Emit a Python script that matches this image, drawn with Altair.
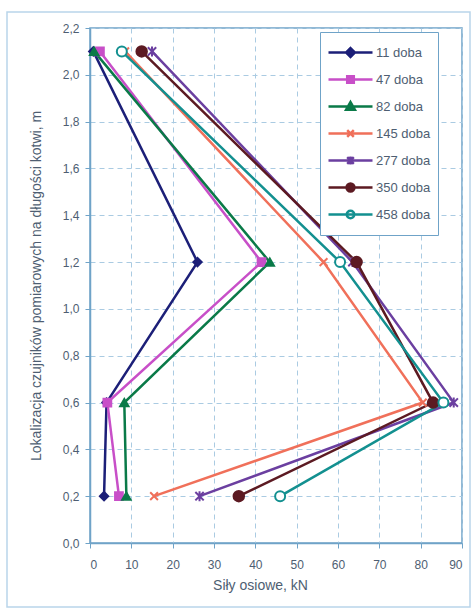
import altair as alt
import pandas as pd

positions = [2.1, 1.2, 0.6, 0.2]
series = ["11 doba", "47 doba", "82 doba", "145 doba", "277 doba", "350 doba", "458 doba"]
v_11 = [0.8, 26.0, 4.0, 3.4]
v_47 = [2.4, 41.5, 4.2, 7.0]
v_82 = [1.0, 43.5, 8.3, 8.8]
v_145 = [8.5, 56.5, 80.5, 15.5]
v_277 = [15.0, 63.5, 88.0, 26.5]
v_350 = [12.5, 64.5, 83.0, 36.0]
v_458 = [7.7, 60.5, 85.5, 46.0]
all_values = [v_11, v_47, v_82, v_145, v_277, v_350, v_458]

colors = ["#1c1f78", "#c84fc8", "#0a7a48", "#f0705a", "#6b3fa0", "#5c1a22", "#139090"]
fills = ["#1c1f78", "#c84fc8", "#0a7a48", "#f0705a", "#6b3fa0", "#5c1a22", "#ffffff"]
x_ticks = [0, 10, 20, 30, 40, 50, 60, 70, 80, 90]
y_ticks = [0.0, 0.2, 0.4, 0.6, 0.8, 1.0, 1.2, 1.4, 1.6, 1.8, 2.0, 2.2]

X_PATH = "M-1,-1L1,1M-1,1L1,-1"
STAR_PATH = "M-1,-1L1,1M-1,1L1,-1M0,-1.2V1.2"
chart_shapes = ["diamond", "square", "triangle-up", X_PATH, STAR_PATH, "circle", "circle"]
chart_sizes = [70, 60, 70, 60, 70, 110, 100]

legend_shapes = [
    "M-1,0H1M0,-0.2L0.2,0L0,0.2L-0.2,0Z",
    "M-1,0H1M-0.15,-0.15H0.15V0.15H-0.15Z",
    "M-1,0H1M0,-0.2L0.2,0.15L-0.2,0.15Z",
    "M-1,0H1M-0.15,-0.15L0.15,0.15M-0.15,0.15L0.15,-0.15",
    "M-1,0H1M-0.15,-0.15L0.15,0.15M-0.15,0.15L0.15,-0.15M0,-0.18V0.18",
    "M-1,0H1M0.18,0A0.18,0.18,0,1,1,-0.18,0A0.18,0.18,0,1,1,0.18,0Z",
    "M-1,0H1M0.17,0A0.17,0.17,0,1,1,-0.17,0A0.17,0.17,0,1,1,0.17,0Z",
]

rows = []
for s, vals in zip(series, all_values):
    for i, (p, v) in enumerate(zip(positions, vals)):
        rows.append({"series": s, "idx": i, "pos": p, "force": v})
df = pd.DataFrame(rows)

# legend-only table: one row per series, placed outside the x domain and clipped away
legend_df = pd.DataFrame({"series": series, "force": [-50] * len(series), "pos": [1.0] * len(series)})

FONT = "Liberation Sans"
TXT = "#4e5e72"
FRAME = "#6fa3c8"

x_enc = alt.X(
    "force:Q",
    scale=alt.Scale(domain=[0, 90], nice=False),
    axis=alt.Axis(values=x_ticks, title="Siły osiowe, kN", format="d", titleX=170),
)
y_enc = alt.Y(
    "pos:Q",
    scale=alt.Scale(domain=[0, 2.2], nice=False),
    axis=alt.Axis(
        values=y_ticks,
        title="Lokalizacja czujników pomiarowych na długości kotwi, m",
        labelExpr="replace(format(datum.value, '.1f'), '.', ',')",
    ),
)

frame = alt.Chart(pd.DataFrame({"a": [0]})).mark_rect(
    fillOpacity=0, stroke="#b9d5ea", strokeWidth=1.5
).encode(
    x=alt.value(-83), x2=alt.value(380), y=alt.value(-16), y2=alt.value(579)
)

line_layers = []
point_layers = []
for s, c, f, shp, sz in zip(series, colors, fills, chart_shapes, chart_sizes):
    base = alt.Chart(df).transform_filter(alt.datum.series == s)
    line_layers.append(
        base.mark_line(strokeWidth=2.5, stroke=c).encode(
            x=x_enc, y=y_enc, order=alt.Order("idx:Q")
        )
    )
    point_layers.append(
        base.mark_point(shape=shp, size=sz, fill=f, stroke=c, strokeWidth=2, opacity=1, fillOpacity=1)
        .encode(x=x_enc, y=y_enc)
    )

legend = alt.Legend(
    title=None,
    orient="none",
    legendX=230,
    legendY=4,
    fillColor="white",
    strokeColor=FRAME,
    padding=7,
    clipHeight=27,
    rowPadding=0,
    symbolSize=1936,
    symbolStrokeWidth=2.5,
    labelFontSize=13,
    labelFont=FONT,
    labelColor=TXT,
    labelOffset=2,
)

legend_layer = alt.Chart(legend_df).mark_point(
    size=1936, strokeWidth=2.5, opacity=1, fillOpacity=1, clip=True
).encode(
    x=x_enc,
    y=y_enc,
    stroke=alt.Stroke("series:N", scale=alt.Scale(domain=series, range=colors), legend=legend),
    fill=alt.Fill("series:N", scale=alt.Scale(domain=series, range=fills), legend=legend),
    shape=alt.Shape("series:N", scale=alt.Scale(domain=series, range=legend_shapes), legend=legend),
)

chart = alt.layer(frame, *line_layers, *point_layers, legend_layer).properties(
    width=372,
    height=515,
    autosize=alt.AutoSizeParams(type="none"),
    padding={"left": 90, "top": 28, "right": 11, "bottom": 67},
    background="white",
).configure_view(
    stroke=FRAME, strokeWidth=1.5
).configure_axis(
    labelFont=FONT,
    labelFontSize=12,
    labelColor=TXT,
    titleFont=FONT,
    titleFontSize=14,
    titleFontWeight="normal",
    titleColor=TXT,
    domainColor=FRAME,
    domainWidth=1.5,
    tickColor=FRAME,
    tickSize=5,
    gridColor="#aacbe2",
    gridDash=[5, 4],
    gridWidth=1,
).configure_axisX(
    labelPadding=11, titlePadding=8
).configure_axisY(
    labelPadding=6, titlePadding=19
)

chart.save("out.html", embed_options={"renderer": "svg", "actions": False})
